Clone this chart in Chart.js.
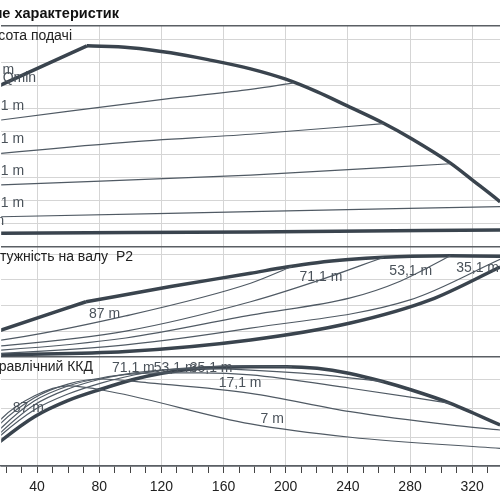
<!DOCTYPE html>
<html>
<head>
<meta charset="utf-8">
<script src="https://cdn.jsdelivr.net/npm/chart.js@4.4.0/dist/chart.umd.min.js"></script>
<style>
  html, body { margin: 0; padding: 0; background: #fff; }
  #wrap { position: relative; width: 500px; height: 500px; overflow: hidden; }
</style>
</head>
<body>
<div id="wrap"><canvas id="pumpChart" width="500" height="500"></canvas></div>
<script>
// x axis: flow Q, tick marks every 10, labels every 40
const xTickValues = [20, 30, 40, 50, 60, 70, 80, 90, 100, 110, 120, 130, 140, 150, 160, 170, 180, 190, 200, 210, 220, 230, 240, 250, 260, 270, 280, 290, 300, 310, 320, 330];
const headGrid = [0, 10, 20, 30, 40, 50, 60, 70, 80, 90];
const powerGrid = [0, 1, 2, 3, 4];
const effGrid = [0, 20, 40, 60];

// Panel 1 - head H (m)
const qMaxRise = [0, 16.9, 72.1];
const hMaxRise = [65.0, 70.2, 87.2];
const qMaxHead = [72.1, 100, 126, 150, 177.4, 200, 220, 240, 263, 281, 306, 321, 338, 345];
const hMaxHead = [87.2, 86.4, 84.2, 81.2, 77.2, 72.7, 67.3, 61.0, 53.6, 46.9, 36.3, 28.5, 19.5, 15.5];
const qHead71 = [0, 16.9, 126, 177.4, 205];
const hHead71 = [53.6, 55.0, 64.4, 68.3, 71.1];
const qHead53 = [0, 16.9, 97, 177.4, 263];
const hHead53 = [39.3, 40.5, 45.3, 48.8, 53.4];
const qHead35 = [0, 16.9, 177.4, 306];
const hHead35 = [26.3, 26.8, 31.1, 36.0];
const qHead17 = [0, 16.9, 177.4, 345];
const hHead17 = [12.8, 13.0, 15.2, 17.5];
const qHead7 = [0, 16.9, 177.4, 345];
const hHead7 = [5.7, 5.8, 6.4, 7.3];

// Panel 2 - shaft power P2
const qMaxPowRise = [0, 16.9, 71.5];
const pMaxPowRise = [0.71, 1.05, 2.15];
const qMaxPow = [71.5, 126, 177.4, 200.5, 220.2, 240.5, 263, 281, 306, 338, 345];
const pMaxPow = [2.15, 2.74, 3.26, 3.50, 3.67, 3.79, 3.88, 3.92, 3.94, 3.92, 3.91];
const qPow71 = [0, 16.9, 97, 177.4, 204];
const pPow71 = [0.58, 0.66, 1.60, 2.87, 3.52];
const qPow53 = [0, 16.9, 97.1, 177.4, 222.3, 263];
const pPow53 = [0.36, 0.43, 1.01, 2.15, 3.0, 3.88];
const qPow35 = [0, 16.9, 97.1, 177.4, 241.6, 273.7, 306];
const pPow35 = [0.22, 0.27, 0.74, 1.63, 2.3, 2.95, 3.94];
const qPow17 = [0, 16.9, 97.1, 177.4, 280, 338];
const pPow17 = [0.10, 0.14, 0.47, 1.12, 2.22, 3.8];
const qPow7 = [0, 16.9, 97.1, 177.4, 241.6, 293, 338];
const pPow7 = [0.05, 0.08, 0.21, 0.66, 1.32, 2.22, 3.5];

// Panel 3 - hydraulic efficiency (%)
const qMaxEff = [0, 16.9, 38.3, 59.7, 81.1, 102.5, 120.3, 145.3, 177.4, 200.5, 220.2, 240.5, 263, 281, 306, 321, 338];
const eMaxEff = [2, 17.5, 34.1, 45.2, 53.1, 60.0, 64.2, 67.6, 68.7, 68.7, 67.6, 64.2, 58.3, 52.6, 43.4, 36.5, 28.4];
const qEff71 = [0, 16.9, 38.1, 59.9, 81.1, 102.3, 120.3, 145.3, 177.4, 204];
const eEff71 = [4, 21.5, 38.8, 49.8, 57.4, 63.0, 66.4, 68.5, 69.3, 68.7];
const qEff53 = [0, 16.9, 38.1, 59.9, 81.1, 102.3, 120.3, 145.3, 177.4, 220, 263];
const eEff53 = [5, 23.5, 42.2, 53.3, 60.2, 64.4, 66.4, 67.4, 66.4, 63.4, 58.3];
const qEff35 = [0, 16.9, 38.1, 59.9, 81.1, 102.3, 120.3, 145.3, 177.4, 241.6, 306];
const eEff35 = [6, 26.3, 45.0, 55.4, 60.9, 63.7, 64.4, 64.4, 63.0, 53.8, 43.4];
const qEff17 = [0, 16.9, 38.1, 59.9, 81.1, 113.2, 177.4, 241.6, 305.8, 338];
const eEff17 = [7, 29.8, 47.1, 56.7, 60.2, 57.4, 50.3, 37.6, 28.4, 24.9];
const qEff7 = [0, 16.9, 38.1, 59.9, 87.5, 177.4, 241.6, 338];
const eEff7 = [8, 32.5, 48.4, 55.4, 51.4, 29.1, 19.9, 12.2];

const FONT = "'Liberation Sans', Arial, sans-serif";
const THICK = '#3a444e';
const THIN = '#505a64';
const GRID = '#d5d5d5';
const FRAME = '#5a5f64';

function curve(q, v, axis, thick) {
  return {
    data: q.map((x, i) => ({ x: x, y: v[i] })),
    yAxisID: axis,
    borderColor: thick ? THICK : THIN,
    borderWidth: thick ? 3.5 : 1.2,
    pointRadius: 0,
    fill: false,
    cubicInterpolationMode: 'monotone'
  };
}

// labels placed at data positions (Q, value)
const curveLabels = [
  { t: '87 m', q: 25.2, v: 76.7, ax: 'yH', align: 'right' },
  { t: 'Qmin', q: 39.4, v: 73.1, ax: 'yH', align: 'right' },
  { t: '71,1 m', q: 31.7, v: 60.8, ax: 'yH', align: 'right' },
  { t: '53,1 m', q: 31.7, v: 46.7, ax: 'yH', align: 'right' },
  { t: '35,1 m', q: 31.7, v: 32.9, ax: 'yH', align: 'right' },
  { t: '17,1 m', q: 31.7, v: 18.8, ax: 'yH', align: 'right' },
  { t: '7 m', q: 18.8, v: 10.9, ax: 'yH', align: 'right' },
  { t: '87 m', q: 73.4, v: 1.67, ax: 'yP', align: 'left' },
  { t: '71,1 m', q: 208.9, v: 3.09, ax: 'yP', align: 'left' },
  { t: '53,1 m', q: 266.7, v: 3.36, ax: 'yP', align: 'left' },
  { t: '35,1 m', q: 309.7, v: 3.45, ax: 'yP', align: 'left' },
  { t: '87 m', q: 24.4, v: 40.1, ax: 'yE', align: 'left' },
  { t: '71,1 m', q: 88.2, v: 68.0, ax: 'yE', align: 'left' },
  { t: '53,1 m', q: 115.1, v: 68.0, ax: 'yE', align: 'left' },
  { t: '35,1 m', q: 138.2, v: 68.0, ax: 'yE', align: 'left' },
  { t: '17,1 m', q: 156.9, v: 57.2, ax: 'yE', align: 'left' },
  { t: '7 m', q: 183.8, v: 32.3, ax: 'yE', align: 'left' }
];

const textPlugin = {
  id: 'texts',
  afterDatasetsDraw(chart) {
    const c = chart.ctx;
    const xs = chart.scales.x;
    c.save();
    c.textBaseline = 'middle';
    c.fillStyle = '#111';
    c.textAlign = 'right';
    c.font = 'bold 14.5px ' + FONT;
    c.fillText('Поле характеристик', 119, 14);
    c.font = '14px ' + FONT;
    c.fillStyle = '#222';
    c.fillText('Висота подачі', 72, 36);
    c.fillText('Потужність на валу  P2', 133, 257);
    c.fillText('Гідравлічний ККД', 93, 367);
    c.fillStyle = '#4a525a';
    curveLabels.forEach(l => {
      c.textAlign = l.align;
      c.fillText(l.t, xs.getPixelForValue(l.q), chart.scales[l.ax].getPixelForValue(l.v));
    });
    c.restore();
  }
};

function yAxis(min, max, grid, top) {
  return {
    position: 'left',
    min: min,
    max: max,
    afterBuildTicks: ax => { ax.ticks = grid.concat(top ? [max] : []).map(v => ({ value: v })); },
    afterFit: ax => { ax.width = 0; },
    ticks: { display: false },
    border: { display: false },
    grid: {
      drawTicks: false,
      color: ctx => (ctx.tick.value === 0 || ctx.tick.value === max) ? FRAME : GRID,
      lineWidth: ctx => (ctx.tick.value === 0 || ctx.tick.value === max) ? 1.5 : 1
    }
  };
}

new Chart(document.getElementById('pumpChart'), {
  type: 'line',
  data: {
    datasets: [
      curve(qHead71, hHead71, 'yH', false),
      curve(qHead53, hHead53, 'yH', false),
      curve(qHead35, hHead35, 'yH', false),
      curve(qHead17, hHead17, 'yH', false),
      curve(qHead7, hHead7, 'yH', true),
      curve(qMaxRise, hMaxRise, 'yH', true),
      curve(qMaxHead, hMaxHead, 'yH', true),
      curve(qPow71, pPow71, 'yP', false),
      curve(qPow53, pPow53, 'yP', false),
      curve(qPow35, pPow35, 'yP', false),
      curve(qPow17, pPow17, 'yP', false),
      curve(qPow7, pPow7, 'yP', true),
      curve(qMaxPowRise, pMaxPowRise, 'yP', true),
      curve(qMaxPow, pMaxPow, 'yP', true),
      curve(qEff71, eEff71, 'yE', false),
      curve(qEff53, eEff53, 'yE', false),
      curve(qEff35, eEff35, 'yE', false),
      curve(qEff17, eEff17, 'yE', false),
      curve(qEff7, eEff7, 'yE', false),
      curve(qMaxEff, eMaxEff, 'yE', true)
    ]
  },
  options: {
    responsive: false,
    animation: false,
    layout: { padding: { top: 26, left: 0, right: 0, bottom: 0 } },
    plugins: { legend: { display: false }, tooltip: { enabled: false } },
    scales: {
      x: {
        type: 'linear',
        min: 16.9,
        max: 337.9,
        afterBuildTicks: ax => { ax.ticks = xTickValues.map(v => ({ value: v })); },
        afterFit: ax => { ax.height = 34; },
        ticks: {
          autoSkip: false,
          maxRotation: 0,
          padding: 6,
          color: '#222',
          font: { family: FONT, size: 14 },
          callback: v => (v % 40 === 0 ? v : '')
        },
        grid: {
          color: ctx => (ctx.tick && ctx.tick.value % 40 === 0 ? GRID : 'rgba(0,0,0,0)'),
          tickColor: '#444',
          tickLength: 7
        },
        border: { color: FRAME, width: 1.5 }
      },
      yH: yAxis(-95.18, 95.79, headGrid, true),
      yP: yAxis(-4.241, 12.879, powerGrid, false),
      yE: yAxis(0, 304.5, effGrid, false)
    }
  },
  plugins: [textPlugin]
});
</script>
</body>
</html>
